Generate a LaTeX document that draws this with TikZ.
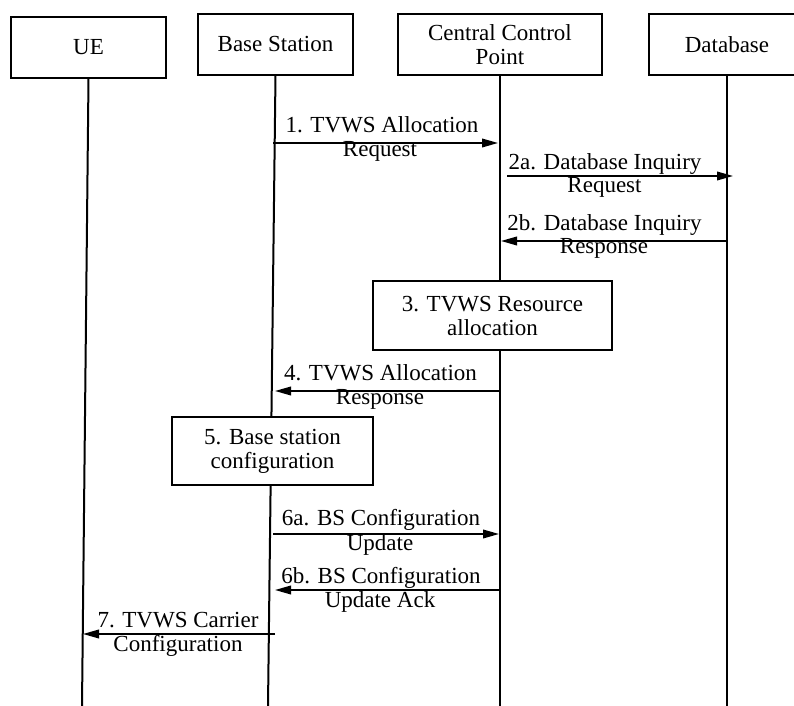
\documentclass[tikz,border=0pt]{standalone}
\usepackage{fontspec}
\setmainfont{Liberation Serif}
\usetikzlibrary{arrows.meta}
\begin{document}
\begin{tikzpicture}[x=0.75pt,y=-0.75pt,
  every node/.style={font=\fontsize{17.25pt}{18pt}\selectfont},
  hdr/.style={draw, line width=0.8pt, inner sep=0pt, align=center},
  procbox/.style={draw, fill=white, line width=1.1pt, inner sep=0pt, align=center},
  life/.style={line width=1.5pt},
  msg/.style={line width=1.1pt, -{Triangle[length=12pt,width=6.5pt]}},
  lbl/.style={anchor=base, inner sep=0pt},
]
\useasboundingbox (0,0) rectangle (794,706);
\clip (0,0) rectangle (794,706);

% headers
\node[hdr, minimum width=155*0.75pt, minimum height=61*0.75pt] (ue) at (88.5,47.5) {UE};
\node[hdr, minimum width=155*0.75pt, minimum height=61*0.75pt] (bs) at (275.5,44.5) {Base Station};
\node[hdr, minimum width=204*0.75pt, minimum height=61*0.75pt] (ccp) at (500,44.5) {Central Control\\Point};
\node[hdr, minimum width=156*0.75pt, minimum height=61*0.75pt] (db) at (727,44.5) {Database};

% lifeline ends
\coordinate (ueEnd) at (82,706);
\coordinate (bsEnd) at (268,706);
\coordinate (ccpEnd) at (500,706);
\coordinate (dbEnd) at (727,706);

\draw[life] (ue.south) -- (ueEnd);
\draw[life] (bs.south) -- (bsEnd);
\draw[life] (ccp.south) -- (ccpEnd);
\draw[life] (db.south) -- (dbEnd);

% process boxes
\node[procbox, minimum width=239*0.75pt, minimum height=69*0.75pt] (alloc) at (492.5,315.5) {3. TVWS Resource\\allocation};
\node[procbox, minimum width=201*0.75pt, minimum height=68*0.75pt] (bscfg) at (272.5,451) {5. Base station\\configuration};

% message end points
\coordinate (m1s) at (273,143);  \coordinate (m1e) at (498,143);
\coordinate (m2as) at (507,176); \coordinate (m2ae) at (733,176);
\coordinate (m2bs) at (727,241); \coordinate (m2be) at (501,241);
\coordinate (m4s) at (500,391);  \coordinate (m4e) at (275,391);
\coordinate (m6as) at (273,534); \coordinate (m6ae) at (499,534);
\coordinate (m6bs) at (500,590); \coordinate (m6be) at (275,590);
\coordinate (m7s) at (275,634);  \coordinate (m7e) at (83,634);

\draw[msg] (m1s) -- (m1e);
\draw[msg] (m2as) -- (m2ae);
\draw[msg] (m2bs) -- (m2be);
\draw[msg] (m4s) -- (m4e);
\draw[msg] (m6as) -- (m6ae);
\draw[msg] (m6bs) -- (m6be);
\draw[msg] (m7s) -- (m7e);

% labels
\node[lbl] (l1a) at (382,133) {1. TVWS Allocation};
\node[lbl] (l1b) at (380,157) {Request};
\node[lbl] (l2aa) at (605,170) {2a. Database Inquiry};
\node[lbl] (l2ab) at (604.5,193) {Request};
\node[lbl] (l2ba) at (604.5,231) {2b. Database Inquiry};
\node[lbl] (l2bb) at (604,254) {Response};
\node[lbl] (l4a) at (380.5,381) {4. TVWS Allocation};
\node[lbl] (l4b) at (380,405) {Response};
\node[lbl] (l6aa) at (381,526) {6a. BS Configuration};
\node[lbl] (l6ab) at (380,551) {Update};
\node[lbl] (l6ba) at (381,584) {6b. BS Configuration};
\node[lbl] (l6bb) at (380,608) {Update Ack};
\node[lbl] (l7a) at (178,627) {7. TVWS Carrier};
\node[lbl] (l7b) at (178,652) {Configuration};
\end{tikzpicture}
\end{document}
